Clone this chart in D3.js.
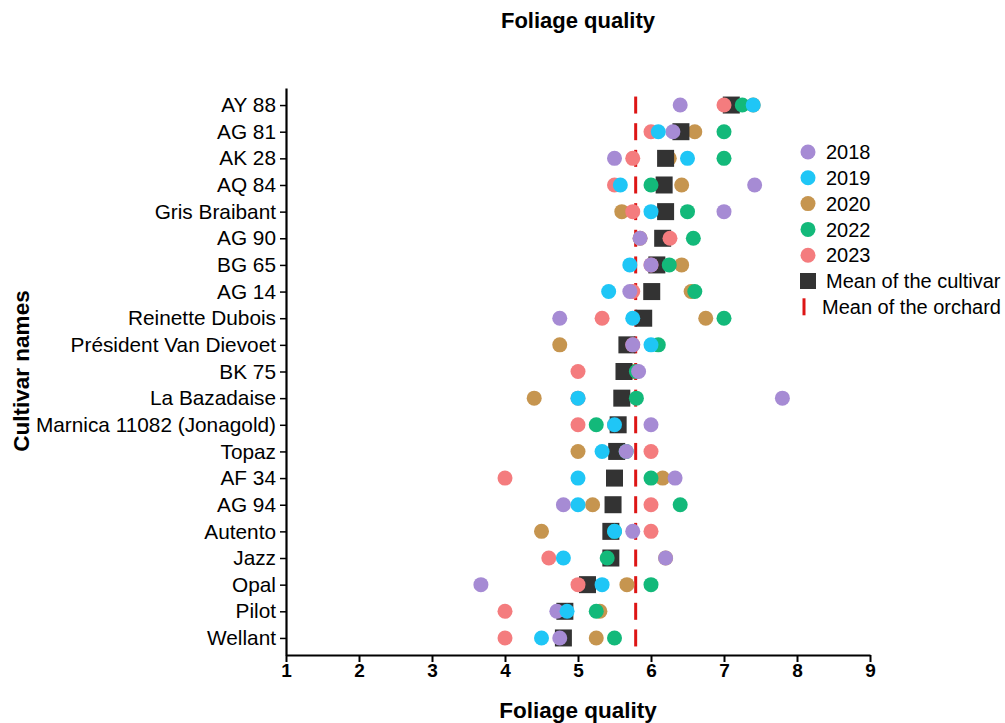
<!DOCTYPE html>
<html><head><meta charset="utf-8">
<script src="https://cdn.jsdelivr.net/npm/d3@7"></script>
<style>body{margin:0;background:#fff;} text{font-family:Arial,"Liberation Sans",sans-serif;}</style>
</head><body><svg id="c" width="1005" height="723"></svg>
<script>
const cultivars = ["AY 88","AG 81","AK 28","AQ 84","Gris Braibant","AG 90","BG 65","AG 14","Reinette Dubois","Président Van Dievoet","BK 75","La Bazadaise","Marnica 11082 (Jonagold)","Topaz","AF 34","AG 94","Autento","Jazz","Opal","Pilot","Wellant"];
const y2018 = [6.40,6.30,5.50,7.42,7.00,5.85,6.00,5.71,4.75,5.75,5.83,7.80,6.00,5.66,6.33,4.80,5.75,6.20,3.67,4.71,4.75];
const y2019 = [7.40,6.10,6.50,5.58,6.00,null,5.71,5.42,5.75,6.00,null,5.00,5.50,5.33,5.00,5.00,5.50,4.80,5.33,4.85,4.50];
const y2020 = [7.40,6.60,6.25,6.42,5.60,5.85,6.42,6.55,6.75,4.75,5.75,4.40,5.50,5.00,6.16,5.20,4.50,6.20,5.67,5.30,5.25];
const y2022 = [7.25,7.00,7.00,6.00,6.50,6.58,6.25,6.60,7.00,6.10,5.80,5.80,5.25,5.66,6.00,6.40,5.50,5.40,6.00,5.25,5.50];
const y2023 = [7.00,6.00,5.75,5.50,5.75,6.26,6.00,5.75,5.33,5.75,5.00,5.00,5.00,6.00,4.00,6.00,6.00,4.60,5.00,4.00,4.00];
const cultivarMean = [7.10,6.41,6.20,6.18,6.20,6.16,6.08,6.01,5.90,5.67,5.63,5.60,5.55,5.53,5.50,5.48,5.45,5.45,5.13,4.82,4.80];
const orchardMean = 5.79;
const xTicks = [1,2,3,4,5,6,7,8,9];
const years = ["2018","2019","2020","2022","2023"];
const colors = {"2018":"#a68bd4","2019":"#1fc6f6","2020":"#c6954f","2022":"#13b97a","2023":"#f47c7e"};
const series = {"2018":y2018,"2019":y2019,"2020":y2020,"2022":y2022,"2023":y2023};

const svg = d3.select("#c");
const x = d3.scaleLinear().domain([1,9]).range([286,870]);
const y = d3.scalePoint().domain(cultivars).range([88,655]).padding(0.64);

function drawSeries(yr){
  svg.append("g").selectAll("circle")
    .data(series[yr].map((v,i)=>({v,c:cultivars[i]})).filter(d=>d.v!==null))
    .join("circle").attr("cx",d=>x(d.v)).attr("cy",d=>y(d.c)).attr("r",7.5)
    .attr("fill",colors[yr]);
}

svg.append("g").selectAll("line").data(cultivars).join("line")
  .attr("x1",x(orchardMean)).attr("x2",x(orchardMean))
  .attr("y1",d=>y(d)-8.5).attr("y2",d=>y(d)+8.5)
  .attr("stroke","#dd1515").attr("stroke-width",3);

drawSeries("2020");
svg.append("g").selectAll("rect").data(cultivarMean.map((v,i)=>({v,c:cultivars[i]})))
  .join("rect").attr("x",d=>x(d.v)-8.5).attr("y",d=>y(d.c)-8.5).attr("width",17).attr("height",17)
  .attr("fill","#333333");
drawSeries("2022");
drawSeries("2023");
drawSeries("2018");
drawSeries("2019");

const xa = svg.append("g").attr("transform","translate(0,655)")
  .call(d3.axisBottom(x).tickValues(xTicks).tickFormat(d3.format("d")).tickSize(7).tickSizeOuter(0));
xa.select(".domain").attr("stroke","#000").attr("stroke-width",2.2);
xa.selectAll(".tick line").attr("stroke","#000").attr("stroke-width",2);
xa.selectAll(".tick text").attr("font-size",19).attr("font-weight","bold").attr("fill","#000").attr("y",8).attr("dy","0.72em")
  .attr("font-family","Arial, 'Liberation Sans', sans-serif");

const ya = svg.append("g").attr("transform","translate(286,0)")
  .call(d3.axisLeft(y).tickSize(6).tickSizeOuter(0));
ya.select(".domain").attr("stroke","#000").attr("stroke-width",2.2);
ya.selectAll(".tick line").attr("stroke","#000").attr("stroke-width",1.5);
ya.selectAll(".tick text").attr("font-size",20.8).attr("fill","#000").attr("x",-10)
  .attr("font-family","Arial, 'Liberation Sans', sans-serif");

svg.append("text").attr("x",578).attr("y",28).attr("text-anchor","middle")
  .attr("font-size",22).attr("font-weight","bold").text("Foliage quality");
svg.append("text").attr("x",578).attr("y",718).attr("text-anchor","middle")
  .attr("font-size",22.5).attr("font-weight","bold").text("Foliage quality");
svg.append("text").attr("transform","translate(29,371) rotate(-90)").attr("text-anchor","middle")
  .attr("font-size",22.5).attr("font-weight","bold").text("Cultivar names");

const lg = svg.append("g");
const ly0 = 152, lstep = 25.8;
years.forEach((yr,i)=>{
  lg.append("circle").attr("cx",808).attr("cy",ly0+i*lstep).attr("r",7.5).attr("fill",colors[yr]);
  lg.append("text").attr("x",826).attr("y",ly0+i*lstep).attr("dy","0.36em").attr("font-size",20).text(yr);
});
lg.append("rect").attr("x",800).attr("y",ly0+5*lstep-8).attr("width",16).attr("height",16).attr("fill","#333333");
lg.append("text").attr("x",826).attr("y",ly0+5*lstep).attr("dy","0.36em").attr("font-size",20).text("Mean of the cultivar");
lg.append("line").attr("x1",804).attr("x2",804).attr("y1",ly0+6*lstep-8.5).attr("y2",ly0+6*lstep+8.5).attr("stroke","#dd1515").attr("stroke-width",3);
lg.append("text").attr("x",822).attr("y",ly0+6*lstep).attr("dy","0.36em").attr("font-size",20).text("Mean of the orchard");
</script></body></html>
